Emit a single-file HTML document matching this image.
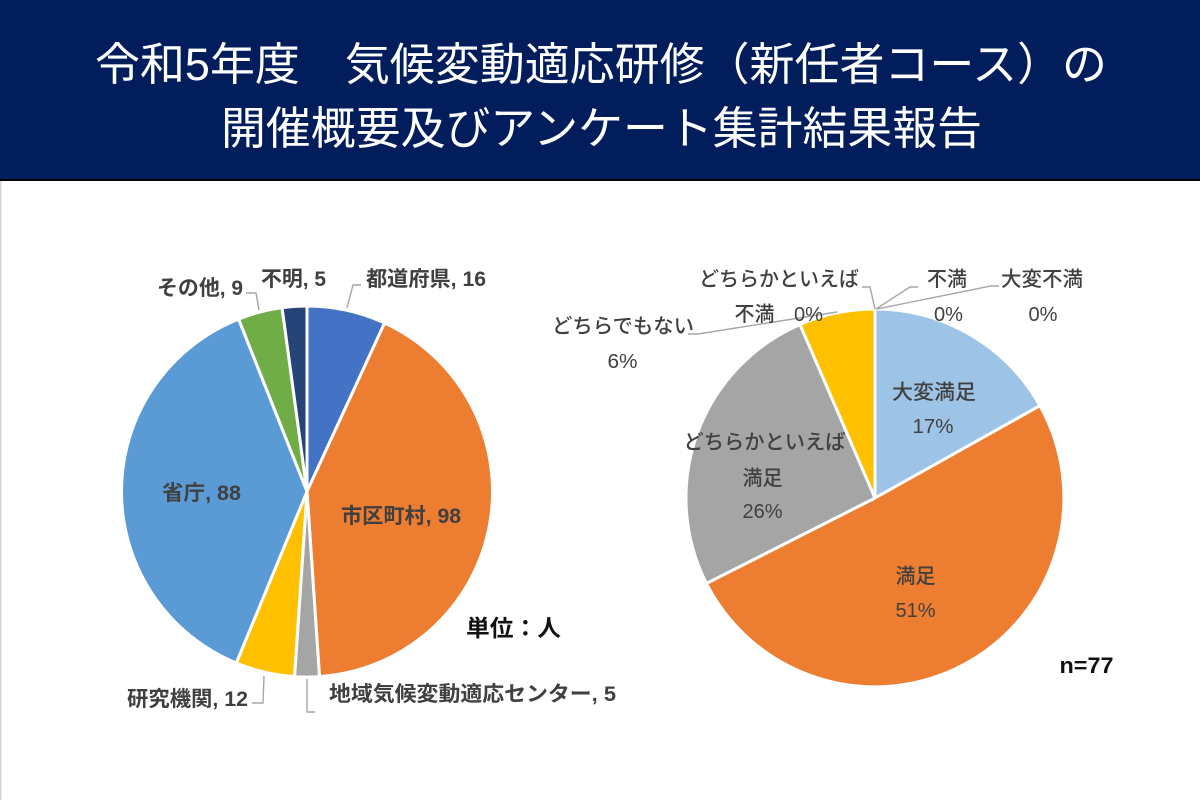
<!DOCTYPE html>
<html>
<head>
<meta charset="utf-8">
<style>
  html, body { margin: 0; padding: 0; background: #ffffff; }
  body { width: 1200px; height: 800px; overflow: hidden; }
  svg { display: block; }
  .t { font-family: "Liberation Sans", "Noto Sans CJK JP", sans-serif; }
  .title { fill: #ffffff; font-size: 45px; font-weight: normal; }
  .lb { fill: #404040; font-size: 21px; font-weight: bold; }
  .rb { fill: #404040; font-size: 20.5px; font-weight: 500; }
  .blk { fill: #111111; font-weight: bold; }
  .ld { fill: none; stroke: #a6a6a6; stroke-width: 1.4; }
</style>
</head>
<body>
<svg width="1200" height="800" viewBox="0 0 1200 800" xmlns="http://www.w3.org/2000/svg">
  <rect x="0" y="0" width="1200" height="800" fill="#ffffff"/>
  <!-- header -->
  <rect x="0" y="0" width="1200" height="180" fill="#021d5b"/>
  <rect x="0" y="179" width="1200" height="2" fill="#000000"/>
  <rect x="0" y="181" width="1.5" height="619" fill="#d4d4d4"/>

  <text class="t title" x="601" y="80" text-anchor="middle" textLength="1012" lengthAdjust="spacingAndGlyphs">令和5年度　気候変動適応研修（新任者コース）の</text>
  <text class="t title" x="601.5" y="144" text-anchor="middle" textLength="761" lengthAdjust="spacingAndGlyphs">開催概要及びアンケート集計結果報告</text>

  <!-- LEFT PIE: center (307,491.5) r=185.5 -->
  <g stroke="#ffffff" stroke-width="3" stroke-linejoin="round">
    <path d="M307,491.5 L307,306 A185.5,185.5 0 0 1 384.57,322.99 Z" fill="#4472C4"/>
    <path d="M307,491.5 L384.57,322.99 A185.5,185.5 0 0 1 319.50,676.58 Z" fill="#ED7D31"/>
    <path d="M307,491.5 L319.50,676.58 A185.5,185.5 0 0 1 294.50,676.58 Z" fill="#A5A5A5"/>
    <path d="M307,491.5 L294.50,676.58 A185.5,185.5 0 0 1 236.29,663.00 Z" fill="#FFC000"/>
    <path d="M307,491.5 L236.29,663.00 A185.5,185.5 0 0 1 238.61,319.06 Z" fill="#5B9BD5"/>
    <path d="M307,491.5 L238.61,319.06 A185.5,185.5 0 0 1 282.07,307.68 Z" fill="#70AD47"/>
    <path d="M307,491.5 L282.07,307.68 A185.5,185.5 0 0 1 307,306 Z" fill="#264478"/>
  </g>

  <!-- left leader lines -->
  <polyline class="ld" points="361,285 353,285 347,308"/>
  <polyline class="ld" points="246,293 256,293 259,310"/>
  <polyline class="ld" points="252,703 263,703 264,676"/>
  <polyline class="ld" points="307,679 307,712 315,712"/>

  <!-- left labels -->
  <text class="t lb" x="426" y="286" text-anchor="middle" textLength="120" lengthAdjust="spacingAndGlyphs">都道府県, 16</text>
  <text class="t lb" x="293.5" y="286" text-anchor="middle" textLength="65" lengthAdjust="spacingAndGlyphs">不明, 5</text>
  <text class="t lb" x="200" y="295" text-anchor="middle" textLength="86" lengthAdjust="spacingAndGlyphs">その他, 9</text>
  <text class="t lb" x="201.5" y="500" text-anchor="middle" textLength="79" lengthAdjust="spacingAndGlyphs">省庁, 88</text>
  <text class="t lb" x="401" y="523" text-anchor="middle" textLength="120" lengthAdjust="spacingAndGlyphs">市区町村, 98</text>
  <text class="t lb" x="187.5" y="706" text-anchor="middle" textLength="121" lengthAdjust="spacingAndGlyphs">研究機関, 12</text>
  <text class="t lb" x="472.5" y="701" text-anchor="middle" textLength="287" lengthAdjust="spacingAndGlyphs">地域気候変動適応センター, 5</text>
  <text class="t blk" x="513.5" y="636" font-size="23" text-anchor="middle" textLength="95" lengthAdjust="spacingAndGlyphs">単位：人</text>

  <!-- RIGHT PIE: center (875,498) r=189 -->
  <g stroke="#ffffff" stroke-width="3" stroke-linejoin="round">
    <path d="M875,498 L875,309 A189,189 0 0 1 1039.95,405.73 Z" fill="#9DC3E6"/>
    <path d="M875,498 L1039.95,405.73 A189,189 0 1 1 706.42,583.46 Z" fill="#ED7D31"/>
    <path d="M875,498 L706.42,583.46 A189,189 0 0 1 800.01,324.51 Z" fill="#A5A5A5"/>
    <path d="M875,498 L800.01,324.51 A189,189 0 0 1 875,309 Z" fill="#FFC000"/>
  </g>

  <!-- right leader lines -->
  <polyline class="ld" points="862,287 870,287 875,309"/>
  <polyline class="ld" points="918,287 910,287 876,309"/>
  <polyline class="ld" points="999,286 991,286 877,309"/>
  <polyline class="ld" points="688,334 698,334 837,312"/>

  <!-- right labels -->
  <text class="t rb" x="779" y="286" text-anchor="middle" textLength="160" lengthAdjust="spacingAndGlyphs">どちらかといえば</text>
  <text class="t rb" x="754.5" y="321" text-anchor="middle" textLength="40" lengthAdjust="spacingAndGlyphs">不満</text>
  <text class="t rb" x="808.5" y="321" text-anchor="middle" textLength="29" lengthAdjust="spacingAndGlyphs">0%</text>
  <text class="t rb" x="947" y="286" text-anchor="middle" textLength="40" lengthAdjust="spacingAndGlyphs">不満</text>
  <text class="t rb" x="948.5" y="321" text-anchor="middle" textLength="29" lengthAdjust="spacingAndGlyphs">0%</text>
  <text class="t rb" x="1042" y="286" text-anchor="middle" textLength="82" lengthAdjust="spacingAndGlyphs">大変不満</text>
  <text class="t rb" x="1043" y="321" text-anchor="middle" textLength="29" lengthAdjust="spacingAndGlyphs">0%</text>
  <text class="t rb" x="623" y="333" text-anchor="middle" textLength="142" lengthAdjust="spacingAndGlyphs">どちらでもない</text>
  <text class="t rb" x="622.5" y="368" text-anchor="middle" textLength="30" lengthAdjust="spacingAndGlyphs">6%</text>
  <text class="t rb" x="934" y="399" text-anchor="middle" textLength="84" lengthAdjust="spacingAndGlyphs">大変満足</text>
  <text class="t rb" x="933" y="433" text-anchor="middle" textLength="41" lengthAdjust="spacingAndGlyphs">17%</text>
  <text class="t rb" x="764.5" y="449" text-anchor="middle" textLength="162" lengthAdjust="spacingAndGlyphs">どちらかといえば</text>
  <text class="t rb" x="762.5" y="485" text-anchor="middle" textLength="40" lengthAdjust="spacingAndGlyphs">満足</text>
  <text class="t rb" x="762.5" y="518" text-anchor="middle" textLength="40" lengthAdjust="spacingAndGlyphs">26%</text>
  <text class="t rb" x="915.5" y="583" text-anchor="middle" textLength="40" lengthAdjust="spacingAndGlyphs">満足</text>
  <text class="t rb" x="915.5" y="617" text-anchor="middle" textLength="40" lengthAdjust="spacingAndGlyphs">51%</text>
  <text class="t blk" x="1086.5" y="673" font-size="22" text-anchor="middle" textLength="54" lengthAdjust="spacingAndGlyphs">n=77</text>
</svg>
</body>
</html>
